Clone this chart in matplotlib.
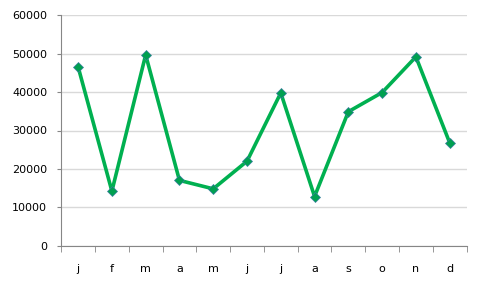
import matplotlib.pyplot as plt
import numpy as np

# mesi e valori
months = ['j', 'f', 'm', 'a', 'm', 'j', 'j', 'a', 's', 'o', 'n', 'd']
values = [46600, 14200, 49700, 17000, 14800, 22000, 39800, 12800, 34900, 39900, 49200, 26800]

plt.rcParams['font.family'] = 'DejaVu Sans'

fig = plt.figure(figsize=(4.82, 2.9), dpi=100)
ax = fig.add_axes([0.127, 0.153, 0.841, 0.794])

x = np.arange(len(months))
ax.plot(x, values, color='#00B050', linewidth=2.6, marker='D', markersize=5.5,
        markerfacecolor='#00A050', markeredgecolor='#3A7FA0', markeredgewidth=0.5)

ax.set_xlim(-0.5, len(months) - 0.5)
ax.set_ylim(0, 60000)
ax.set_yticks(range(0, 60001, 10000))
ax.yaxis.grid(True, color='#d9d9d9', linewidth=1)
ax.set_axisbelow(True)

ax.set_xticks(x)
ax.set_xticklabels(months)
ax.set_xticks(np.arange(-0.5, len(months)), minor=True)
ax.tick_params(axis='x', which='major', length=0, pad=13, labelsize=8)
ax.tick_params(axis='x', which='minor', length=4, color='#868686', direction='out')
ax.tick_params(axis='y', length=3, color='#868686', pad=7, labelsize=8)

for s in ['top', 'right']:
    ax.spines[s].set_visible(False)
for s in ['left', 'bottom']:
    ax.spines[s].set_color('#868686')

plt.savefig('out.png', dpi=100)
